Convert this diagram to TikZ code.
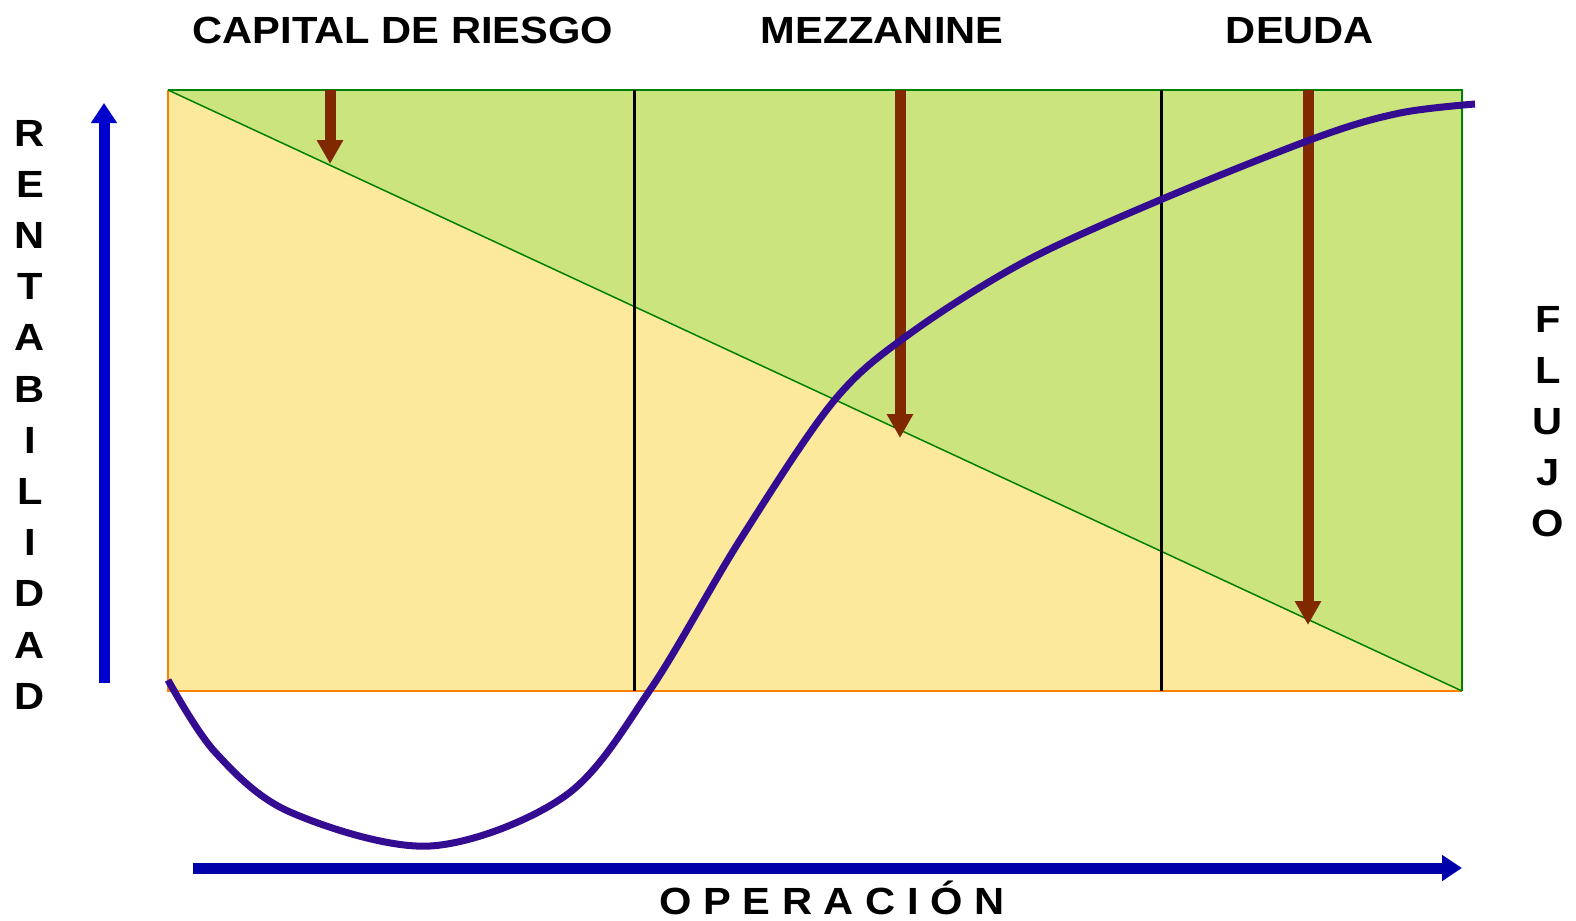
\documentclass[tikz,border=0pt]{standalone}
\usepackage{fontspec}
\usepackage{xcolor}
\usepackage{tikz}
\usetikzlibrary{arrows.meta}
\newfontfamily\lblfont{Liberation Sans}[FakeStretch=1.1]
\definecolor{verde}{RGB}{204,228,126}
\definecolor{amarillo}{RGB}{253,233,155}
\definecolor{bordeverde}{RGB}{0,128,0}
\definecolor{naranja}{RGB}{255,128,0}
\definecolor{cafe}{RGB}{128,40,0}
\definecolor{azul}{RGB}{0,0,204}
\definecolor{azulosc}{RGB}{0,0,170}
\definecolor{morado}{RGB}{51,12,145}
\tikzset{
  letra/.style={font=\lblfont\bfseries\fontsize{38}{40}\selectfont,inner sep=0pt,anchor=base},
  flechacafe/.style={draw=cafe,line width=11bp,-{Triangle[width=25bp,length=24bp]}},
  flechaazul/.style={draw=azul,line width=11bp,-{Triangle[width=25bp,length=20bp]}}
}

\begin{document}
\begin{tikzpicture}[x=1bp,y=-1bp]
      \useasboundingbox (0,0) rectangle (1576,920);
      \coordinate (nw) at (168,90);
      \coordinate (ne) at (1462,90);
      \coordinate (sw) at (168,691);
      \coordinate (se) at (1462,691);
      % the two triangles
      \fill[amarillo] (nw) -- (se) -- (sw) -- cycle;
      \fill[verde] (nw) -- (ne) -- (se) -- cycle;
      \draw[naranja,line width=2bp] (nw) -- (sw) -- (se);
      \draw[bordeverde,line width=1.5bp] (nw) -- (ne) -- (se);
      \draw[bordeverde,line width=1.5bp] (nw) -- (se);
      \foreach \x in {634,1161}
      \draw[line width=3bp] (\x,90) -- (\x,691);
      % arrows down to the diagonal
      \foreach \x/\y in {330/164,900/438,1308/625}{
        \coordinate (top\x) at (\x,90);
        \coordinate (tip\x) at (\x,\y);
        \draw[flechacafe] (top\x) -- (tip\x);
      }
      % axes
      \coordinate (ybot) at (104,683);
      \coordinate (ytop) at (104,103);
      \coordinate (xleft) at (193,868);
      \coordinate (xright) at (1462,868);
      \draw[flechaazul] (ybot) -- (ytop);
      \draw[flechaazul,draw=azulosc] (xleft) -- (xright);
      % flujo
      \draw[morado,line width=7bp] plot[smooth,tension=0.55] coordinates {
        (168,680) (215,752) (290,812) (430,846) (565,796) (650,690)
        (740,540) (833,402) (908,335) (1024,262) (1160,200) (1318,137)
        (1400,113) (1475,104)};
      \node[letra] (capital) at (403,43) {CAPITAL DE RIESGO};
      \node[letra] (mezz) at (882,43) {MEZZANINE};
      \node[letra] (deuda) at (1300,43) {DEUDA};
      \node[letra] (operacion) at (832,914) {O P E R A C I Ó N};
      \foreach \l [count=\i from 0] in {R,E,N,T,A,B,I,L,I,D,A,D}
      \node[letra] (rent\i) at (30,{146+51.2*\i}) {\l};
      \foreach \l [count=\i from 0] in {F,L,U,J,O}
      \node[letra] (flujo\i) at (1548,{332+51*\i}) {\l};
\end{tikzpicture}
\end{document}
